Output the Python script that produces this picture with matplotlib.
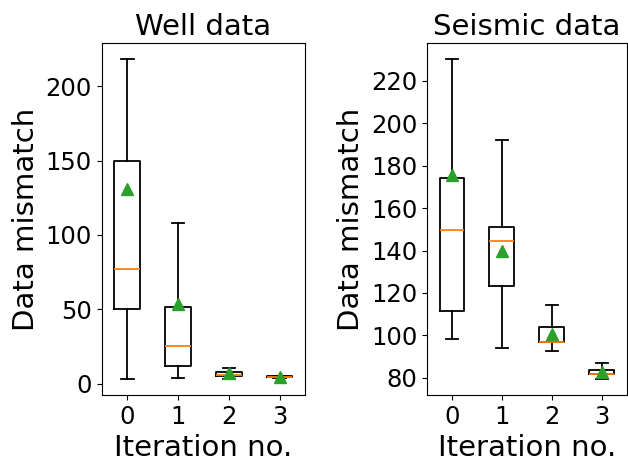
import matplotlib.pyplot as plt

# Summary statistics per iteration (whisker low, Q1, median, Q3, whisker high, mean)
iterations = [0, 1, 2, 3]

well_whislo = [3.2, 3.6, 3.2, 4.0]
well_q1 = [50.0, 11.7, 5.3, 4.3]
well_med = [77.1, 25.1, 5.6, 4.6]
well_q3 = [150.0, 51.8, 8.1, 4.9]
well_whishi = [218.2, 108.2, 10.5, 5.3]
well_mean = [130.6, 53.6, 7.3, 4.3]

seis_whislo = [98.5, 94.3, 92.9, 79.5]
seis_q1 = [111.7, 123.5, 97.0, 81.8]
seis_med = [149.9, 144.3, 97.1, 82.0]
seis_q3 = [174.4, 150.9, 104.2, 83.8]
seis_whishi = [230.2, 191.9, 114.4, 86.8]
seis_mean = [175.8, 139.7, 100.6, 83.0]


def make_stats(lo, q1, med, q3, hi, mean):
    stats = []
    for i in range(len(lo)):
        stats.append({
            'whislo': lo[i], 'q1': q1[i], 'med': med[i],
            'q3': q3[i], 'whishi': hi[i], 'mean': mean[i], 'fliers': [],
        })
    return stats


fig = plt.figure(figsize=(6.28, 4.63), dpi=100)
ax1 = fig.add_axes([0.162, 0.147, 0.324, 0.760])
ax2 = fig.add_axes([0.680, 0.147, 0.318, 0.760])

panels = [
    (ax1, "Well data", make_stats(well_whislo, well_q1, well_med, well_q3, well_whishi, well_mean)),
    (ax2, "Seismic data", make_stats(seis_whislo, seis_q1, seis_med, seis_q3, seis_whishi, seis_mean)),
]

lw = 1.3
for ax, title, stats in panels:
    ax.bxp(stats, positions=iterations, widths=0.5, showmeans=True,
           boxprops=dict(linewidth=lw), whiskerprops=dict(linewidth=lw),
           capprops=dict(linewidth=lw), medianprops=dict(linewidth=lw, color='C1'),
           meanprops=dict(marker='^', markersize=8.5, markerfacecolor='C2',
                          markeredgecolor='C2'))
    ax.set_xticks(iterations)
    ax.set_xticklabels([str(i) for i in iterations])
    ax.set_title(title, fontsize=21)
    ax.set_xlabel("Iteration no.", fontsize=21)
    ax.set_ylabel("Data mismatch", fontsize=21)
    ax.tick_params(labelsize=17.5)
    ax.autoscale(axis='y')

ax2.set_yticks(range(80, 221, 20))

plt.savefig("out.png", dpi=100)
